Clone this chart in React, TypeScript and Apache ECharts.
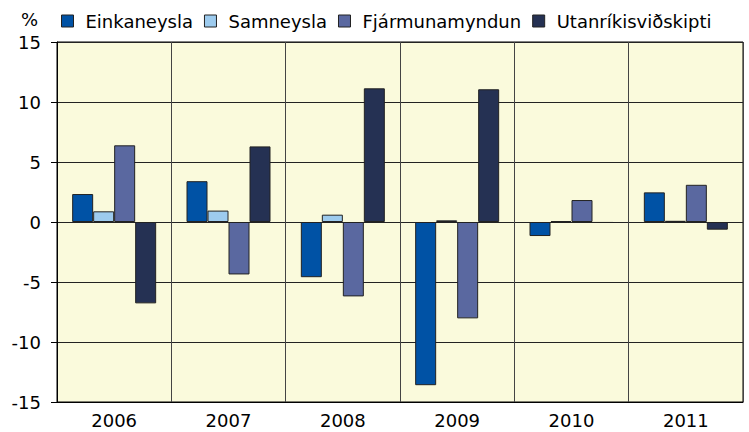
import React, { useEffect, useRef } from "react";
import * as echarts from "echarts";

const years = ["2006", "2007", "2008", "2009", "2010", "2011"];
const einkaneysla = [2.33, 3.4, -4.6, -13.6, -1.17, 2.47];
const samneysla = [0.89, 0.95, 0.61, 0.14, 0.08, 0.1];
const fjarmunamyndun = [6.39, -4.37, -6.2, -8.03, 1.83, 3.1];
const utanrikis = [-6.78, 6.3, 11.14, 11.06, -0.08, -0.64];

const seriesNames = ["Einkaneysla", "Samneysla", "Fjármunamyndun", "Utanríkisviðskipti"];
const seriesColors = ["#0052A5", "#9DCBEE", "#5A68A0", "#253153"];

const FONT = "DejaVu Sans";

export default function App() {
  const ref = useRef<HTMLDivElement>(null);
  useEffect(() => {
    if (!ref.current) return;
    const chart = echarts.init(ref.current, null, { renderer: "svg" });
    const data = [einkaneysla, samneysla, fjarmunamyndun, utanrikis];
    chart.setOption({
      animation: false,
      backgroundColor: "#ffffff",
      textStyle: { fontFamily: FONT },
      graphic: [
        {
          type: "text",
          x: 21,
          y: 19,
          style: {
            text: "%",
            font: `18px '${FONT}'`,
            fill: "#000",
            verticalAlign: "middle",
            align: "left",
          },
        },
      ],
      legend: {
        left: 61,
        top: 12,
        padding: 0,
        itemWidth: 12,
        itemHeight: 12,
        itemGap: 11,
        icon: "rect",
        data: seriesNames,
        textStyle: { fontFamily: FONT, fontSize: 18, color: "#000", padding: [0, 0, 0, 7] },
        itemStyle: { borderColor: "#222", borderWidth: 1 },
      },
      grid: {
        left: 57,
        right: 6,
        top: 42,
        bottom: 30,
        show: true,
        backgroundColor: "#FAFADC",
        borderColor: "#000",
        borderWidth: 1,
      },
      xAxis: {
        type: "category",
        data: years,
        position: "bottom",
        axisLine: { onZero: false, lineStyle: { color: "#000" } },
        axisTick: { show: false },
        axisLabel: { fontFamily: FONT, fontSize: 18, color: "#000", margin: 9 },
        splitLine: { show: true, lineStyle: { color: "#444", width: 1 } },
      },
      yAxis: {
        type: "value",
        min: -15,
        max: 15,
        interval: 5,
        axisLine: { show: true, lineStyle: { color: "#000" } },
        axisTick: { show: true, length: 6, lineStyle: { color: "#000" } },
        axisLabel: { fontFamily: FONT, fontSize: 18, color: "#000", margin: 16 },
        splitLine: { show: true, lineStyle: { color: "#222", width: 1 } },
      },
      series: seriesNames.map((name, i) => ({
        name,
        type: "bar",
        data: data[i],
        barWidth: 21,
        barGap: "0%",
        itemStyle: { color: seriesColors[i], borderColor: "#222", borderWidth: 1 },
      })),
    });
    return () => chart.dispose();
  }, []);
  return <div ref={ref} style={{ width: 749, height: 432, position: "absolute", left: 0, top: 0 }} />;
}
